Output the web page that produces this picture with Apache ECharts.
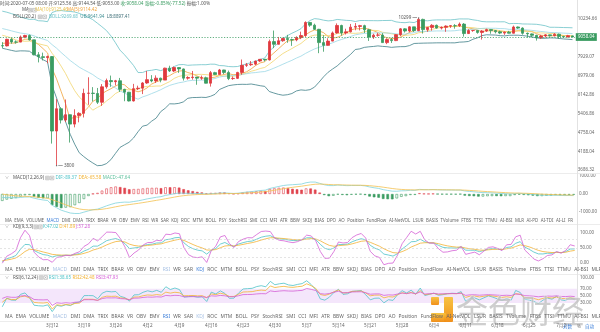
<!DOCTYPE html>
<html><head><meta charset="utf-8">
<script src="https://cdn.jsdelivr.net/npm/echarts@6/dist/echarts.min.js"></script>
<style>html,body{margin:0;padding:0;background:#fff}#c{width:600px;height:332px}</style>
</head><body><div id="c"></div>
<script>
// ---------------- DATA (daily candles, 2020-03-01 .. 2020-07-05) ----------------
const opens = [
 8543,8530,8915,8760,8750,9055,9150,8885,8035,7930,7885,7935,4800,5580,5170,5360,5030,5330,5410,6190,6200,6185,5830,6470,6750,6700,6740,6360,6240,5880,6390,
 6410,6640,6790,6730,6860,6770,7340,7200,7370,7300,6860,6890,6910,6860,6880,6630,7120,7030,7250,7130,6840,6850,7130,7480,7510,7540,7700,7790,7760,8780,
 8620,8830,8970,8900,8880,9030,9150,9990,9810,9540,8720,8560,8810,9310,9790,9310,9380,9680,9730,9780,9510,9060,9170,9180,8720,8900,8840,9200,9570,9430,9700,
 9450,10200,9520,9660,9800,9620,9670,9750,9780,9770,9880,9270,9460,9470,9340,9430,9520,9460,9380,9300,9360,9290,9690,9620,9290,9250,9160,9010,9120,9190,
 9140,9230,9090,9060,9125.56];
const closes = [
 8530,8915,8760,8750,9055,9150,8885,8035,7930,7885,7935,4800,5580,5170,5360,5030,5330,5410,6190,6200,6185,5830,6470,6750,6700,6740,6360,6240,5880,6390,6410,
 6640,6790,6730,6860,6770,7340,7200,7370,7300,6860,6890,6910,6860,6880,6630,7120,7030,7250,7130,6840,6850,7130,7480,7510,7540,7700,7790,7760,8780,8620,
 8830,8970,8900,8880,9030,9150,9990,9810,9540,8720,8560,8810,9310,9790,9310,9380,9680,9730,9780,9510,9060,9170,9180,8720,8900,8840,9200,9570,9430,9700,9450,
 10200,9520,9660,9800,9620,9670,9750,9780,9770,9880,9270,9460,9470,9340,9430,9520,9460,9380,9300,9360,9290,9690,9620,9290,9250,9160,9010,9120,9190,9140,
 9230,9090,9060,9135.56,9058.04];
const lows = [
 8411,8498,8653,8660,8740,8990,8840,8000,7630,7730,7590,4410,3800,5050,5100,4440,4920,5090,5260,5730,5860,5760,5690,6390,6470,6530,6250,5870,5860,5860,6330,
 6160,6600,6670,6640,6670,6770,7150,7150,7110,6750,6790,6790,6560,6780,6620,6480,7000,7030,7050,6770,6780,6820,7020,7400,7450,7480,7650,7680,7730,8400,
 8610,8770,8710,8530,8800,8930,9060,9700,9500,8120,8200,8540,8800,9260,9140,9210,9340,9480,9470,9300,8820,8940,9080,8700,8630,8700,8810,9110,9330,9350,9370,
 9420,9270,9380,9450,9580,9530,9380,9630,9580,9690,9080,9240,9380,9260,8900,9370,9260,9280,9230,9190,9280,9280,9570,9200,9020,9030,8840,8940,9020,9080,
 9090,8950,9030,9040,9053];
const highs = [
 8750,8960,8990,8848,9150,9194,9210,8890,8180,8150,7990,7965,5955,5640,5940,5365,5560,5450,6390,6900,6457,6420,6590,6840,6980,6780,6870,6380,6250,6600,6520,
 6680,7200,7000,6990,6880,7360,7460,7420,7380,7320,6950,7200,6910,6980,6930,7200,7160,7300,7260,7220,6940,7160,7780,7600,7700,7720,7800,7800,8900,9460,
 9060,9010,9190,8960,9100,9390,10070,10030,9910,9570,9170,8980,9400,9930,9840,9580,9890,9950,9830,9840,9570,9260,9310,9300,8980,9010,9230,9620,9610,9740,9700,
 10299,10250,9690,9880,9850,9730,9800,9800,9880,9990,9950,9550,9490,9480,9490,9580,9540,9490,9450,9400,9440,9780,9720,9670,9330,9280,9190,9190,9230,9200,
 9300,9270,9130,9190,9144.54];
// closes before the visible window (Jan-Feb 2020), used only to warm up the indicators
const warmCloses = [
 7200,6985,7345,7355,7360,7760,8160,8045,7815,8200,8020,8185,8110,8815,8810,8720,8900,8910,8700,8630,8725,8660,8390,8435,8340,8600,8895,9395,9285,9500,9345,
 9390,9340,9290,9180,9620,9760,9810,9910,10170,9850,10270,10350,10240,10360,9900,9930,9700,10180,9600,9610,9690,9670,9960,9660,9310,8790,8810,8700,8540];
const priceTicks = [3686.32,4188.04,4758.04,5406.86,6142.86,6979.06,7929.07,10234.66];
const dateLabels = ['3月12','3月19','3月26','4月2','4月9','4月16','4月23','4月30','5月7','5月14','5月21','5月28','6月4','6月11','6月18','6月25','7月2'];
const macdTicks = [-1000,0,1000];
const kdjTicks = [0,50,100];
const rsiTicks = [30,50,70,100];
const tabWords = ['MA','EMA','VOLUME','MACD','DMI','DMA','TRIX','BRAR','VR','OBV','EMV','RSI','WR','SAR','KDJ','ROC','MTM','BOLL','PSY','StochRSI','SMI','CCI','MFI','ATR','BBW','SKDJ','BIAS','DPO','AO','Position','FundFlow','AI-NetVOL','LSUR','BASIS','TVolume','FTBS','TTSI','TTMU','AI-BSI','MLR','AI-PD','AI-TDI','AI-LI','FR'];

// ---------------- helpers ----------------
const FONT = '"Noto Sans","Noto Sans CJK SC",sans-serif';
const RED = '#e0393e', GREEN = '#3a9c61';
const C_K = '#4cc3c8', C_D = '#f2b233', C_J = '#d45fd6';
const P0 = 7929.07, STEP = Math.log(10234.66 / 7929.07) / 2;
const tOf = p => Math.log(p / P0) / STEP;   // log price scale position
const cv = document.createElement('canvas').getContext('2d');
const tw = (s, fs) => { cv.font = fs + 'px ' + FONT; return cv.measureText(s).width; };

const N = closes.length, W = warmCloses.length;
const cats = [];
for (let i = 0; i < N; i++) { const d = new Date(2020, 2, 1 + i); cats.push((d.getMonth() + 1) + '月' + d.getDate()); }

// ---------------- indicators ----------------
const allC = warmCloses.concat(closes), allH = warmCloses.concat(highs), allL = warmCloses.concat(lows);
const avg = a => a.reduce((x, y) => x + y, 0) / a.length;
const maN = n => allC.map((_, i) => i < n - 1 ? null : avg(allC.slice(i - n + 1, i + 1))).slice(W);
const ma5 = maN(5), ma10 = maN(10);
const bMid = [], bUp = [], bLo = [];
for (let i = W; i < W + N; i++) {
  const s = allC.slice(i - 19, i + 1), m = avg(s);
  const sd = Math.sqrt(s.reduce((a, b) => a + (b - m) * (b - m), 0) / 20);
  bMid.push(m); bUp.push(m + 2 * sd); bLo.push(m - 2 * sd);
}
let e12 = 0, e26 = 0, dea = 0; const difA = [], deaA = [], macdA = [];
allC.forEach((c, i) => {
  e12 = i ? e12 * 11 / 13 + c * 2 / 13 : c; e26 = i ? e26 * 25 / 27 + c * 2 / 27 : c;
  const d = e12 - e26; dea = i ? dea * 0.8 + d * 0.2 : d;
  difA.push(d); deaA.push(dea); macdA.push(2 * (d - dea));
});
let K = 50, D = 50; const kA = [], dA = [], jA = [];
allC.forEach((c, i) => {
  const s = Math.max(0, i - 8);
  const hh = Math.max(...allH.slice(s, i + 1)), ll = Math.min(...allL.slice(s, i + 1));
  const rsv = hh === ll ? 50 : (c - ll) / (hh - ll) * 100;
  K = K * 2 / 3 + rsv / 3; D = D * 2 / 3 + K / 3;
  kA.push(K); dA.push(D); jA.push(3 * K - 2 * D);
});
function rsi(n) {
  let up = 0, dn = 0; const out = [50];
  for (let i = 1; i < allC.length; i++) {
    const ch = allC[i] - allC[i - 1];
    up = (Math.max(ch, 0) + (n - 1) * up) / n; dn = (Math.abs(ch) + (n - 1) * dn) / n;
    out.push(dn === 0 ? 50 : up / dn * 100);
  }
  return out.slice(W);
}
const r1 = rsi(6), r2 = rsi(12), r3 = rsi(24);
const vis = a => a.slice(W);
const dif = vis(difA), deaV = vis(deaA), macd = vis(macdA);
const macdBars = macd.map((v, i) => {
  const prev = macdA[W + i - 1];
  const col = v >= 0 ? '#e0454f' : GREEN;
  const hollow = v >= prev;
  return { value: v, itemStyle: { color: hollow ? '#fff' : col, borderColor: col, borderWidth: 0.6 } };
});

const candle = opens.map((o, i) => [tOf(o), tOf(closes[i]), tOf(lows[i]), tOf(highs[i])]);
let hiI = 0, loI = 0;
highs.forEach((h, i) => { if (h > highs[hiI]) hiI = i; });
lows.forEach((l, i) => { if (l < lows[loI]) loI = i; });
const lastC = closes[N - 1];

// ---------------- graphics (legends, tabs, watermark) ----------------
const G = [];
function txt(x, y, s, fill, fs, extra) {
  G.push({ type: 'text', x: x, y: y, silent: true, z: 50,
    style: Object.assign({ text: s, fill: fill, fontSize: fs, fontFamily: FONT, verticalAlign: 'middle', align: 'left' }, extra || {}) });
}
function icons(x, y) {
  G.push({ type: 'rect', z: 50, shape: { x: x, y: y - 1.8, width: 3.6, height: 3.6 }, style: { fill: '#fff', stroke: '#999', lineWidth: 0.5 } });
  G.push({ type: 'rect', z: 50, shape: { x: x + 1, y: y - 0.8, width: 1.6, height: 1.6 }, style: { fill: 'none', stroke: '#888', lineWidth: 0.4 } });
  G.push({ type: 'rect', z: 50, shape: { x: x + 4.6, y: y - 1.8, width: 3.6, height: 3.6 }, style: { fill: '#fff', stroke: '#999', lineWidth: 0.5 } });
  G.push({ type: 'line', z: 50, shape: { x1: x + 5.4, y1: y - 1, x2: x + 7.4, y2: y + 1 }, style: { stroke: '#888', lineWidth: 0.4 } });
  G.push({ type: 'line', z: 50, shape: { x1: x + 7.4, y1: y - 1, x2: x + 5.4, y2: y + 1 }, style: { stroke: '#888', lineWidth: 0.4 } });
}
function seqFit(x0, x1, y, fs, segs) {
  const ws = segs.map(s => s.icon ? 8.2 : tw(s.t, fs));
  const gap = (x1 - x0 - ws.reduce((a, b) => a + b, 0)) / (segs.length - 1);
  let x = x0;
  segs.forEach((s, i) => { if (s.icon) icons(x, y); else txt(x, y, s.t, s.c, fs); x += ws[i] + gap; });
}
const GR = '#555';
seqFit(0, 210, 3.6, 4.6, [
  { t: '时间:2020-07-05 08:00', c: GR }, { t: '开:' + opens[N - 1].toFixed(2), c: GR }, { t: '高:' + highs[N - 1].toFixed(2), c: GR },
  { t: '低:' + lows[N - 1].toFixed(2), c: GR }, { t: '收:' + lastC.toFixed(2), c: GREEN },
  { t: '涨幅:-0.85%(-77.52)', c: GREEN }, { t: '振幅:1.00%', c: GR }]);
seqFit(22, 97, 10.2, 4.5, [{ t: 'MA', c: GR }, { icon: 1 }, { t: 'MA(10):9125.46', c: '#e9c552' }, { t: 'MA(5):9114.42', c: '#f0a23a' }]);
seqFit(13, 130, 16.8, 4.5, [{ t: 'BOLL(20,2)', c: GR }, { icon: 1 }, { t: 'BOLL:9269.68', c: '#6cc3c8' }, { t: 'UB:9641.94', c: '#3f8f93' }, { t: 'LB:8897.41', c: '#3f6f78' }]);
txt(5, 178, '∨', '#888', 4);
seqFit(13, 130, 178, 4.5, [{ t: 'MACD(12,26,9)', c: GR }, { icon: 1 }, { t: 'DIF:-89.37', c: C_K }, { t: 'DEA:-65.58', c: C_D }, { t: 'MACD:-47.64', c: '#5abf9a' }]);
txt(5, 227, '∨', '#888', 4);
seqFit(13, 90, 227, 4.5, [{ t: 'KDJ(9,3,3)', c: GR }, { icon: 1 }, { t: 'K:47.02', c: C_K }, { t: 'D:41.89', c: C_D }, { t: 'J:57.28', c: C_J }]);
txt(5, 277.5, '∨', '#888', 4);
seqFit(13, 118, 277.5, 4.5, [{ t: 'RSI(6,12,24)', c: GR }, { icon: 1 }, { t: 'RSI1:38.65', c: C_K }, { t: 'RSI2:42.48', c: C_D }, { t: 'RSI3:47.93', c: C_J }]);

function tabRow(y, fs, scale, hl, dim) {
  const ws = tabWords.map(w => tw(w, 4.4));
  const gap = (573 - 5 - ws.reduce((a, b) => a + b, 0)) / (tabWords.length - 1);
  let x = 5;
  tabWords.forEach((w, i) => {
    const px = 5 + (x - 5) * scale;
    if (px < 604) txt(px, y, w, w === hl ? '#3d7fd9' : (dim.indexOf(w) >= 0 ? '#a8c2e4' : '#666'), fs);
    x += ws[i] + gap;
  });
}
tabRow(220.5, 4.4, 1, 'MACD', []);
tabRow(270, 4.9, 1.15, 'KDJ', ['MACD', 'RSI']);
tabRow(317, 4.9, 1.15, 'RSI', ['MACD', 'KDJ']);

// separators and right border
[173.5, 224.5, 274.5, 321.5].forEach(y => G.push({ type: 'line', z: 1, shape: { x1: 0, y1: y, x2: 600, y2: y }, style: { stroke: '#ececec', lineWidth: 1 } }));
G.push({ type: 'line', z: 1, shape: { x1: 577.5, y1: 0, x2: 577.5, y2: 322 }, style: { stroke: '#e2e2e2', lineWidth: 1 } });

// watermark logo
const og = { type: 'linear', x: 0, y: 0, x2: 0, y2: 1, colorStops: [{ offset: 0, color: '#f7c23a' }, { offset: 1, color: '#f08a10' }] };
G.push({ type: 'rect', z: 40, shape: { x: 444, y: 297, width: 9, height: 25, r: 1 }, style: { fill: og, opacity: 0.95 } });
G.push({ type: 'rect', z: 40, shape: { x: 431, y: 313, width: 15, height: 9, r: 1 }, style: { fill: og, opacity: 0.95 } });
G.push({ type: 'rect', z: 40, shape: { x: 431, y: 297, width: 8, height: 8, r: 1 }, style: { fill: og, opacity: 0.95 } });
G.push({ type: 'text', z: 40, x: 456, y: 311, silent: true,
  style: { text: '金色财经', fill: 'rgba(190,190,190,0.75)', stroke: 'rgba(255,255,255,0.6)', lineWidth: 0.8, fontSize: 32,
           fontFamily: '"Noto Sans CJK SC",sans-serif', verticalAlign: 'middle', align: 'left' } });

// bottom-right controls (above the watermark)
txt(563, 326.5, '对数', '#3d7fd9', 4.6, {});
txt(577, 326.5, '%', '#777', 4.6);
txt(585, 326.5, '自动', '#3d7fd9', 4.6);

// ---------------- chart ----------------
const labelStyle = { fontSize: 4.5, color: '#666', fontFamily: FONT, margin: 3 };
const grids = [
  { left: 0, right: 23, top: 0, height: 173 },
  { left: 0, right: 23, top: 174, height: 41.6 },
  { left: 0, right: 23, top: 228, height: 38 },
  { left: 0, right: 23, top: 278, height: 35.7 }
];
const xAxes = grids.map((g, i) => ({
  type: 'category', gridIndex: i, data: cats, boundaryGap: true, z: 45,
  axisLine: { show: false }, axisTick: { show: false }, splitLine: { show: false },
  axisLabel: i < 3 ? { show: false } : { interval: (idx, v) => dateLabels.indexOf(v) >= 0, fontSize: 4.6, color: '#666', fontFamily: FONT, margin: 10 }
}));
const yBase = { type: 'value', position: 'right', axisLine: { show: false }, axisTick: { show: false }, splitLine: { show: false } };
const yAxes = [
  Object.assign({}, yBase, { gridIndex: 0, min: tOf(P0) - 173 / 18.9 + 3, max: 3, scale: true,
    axisLabel: Object.assign({}, labelStyle, { customValues: priceTicks.map(tOf), formatter: v => {
      let b = 0; priceTicks.forEach((p, i) => { if (Math.abs(tOf(p) - v) < Math.abs(tOf(priceTicks[b]) - v)) b = i; });
      return priceTicks[b].toFixed(2); } }) }),
  Object.assign({}, yBase, { gridIndex: 1, min: -1200, max: 1111, axisLabel: Object.assign({}, labelStyle, { customValues: macdTicks, formatter: v => v.toFixed(2) }) }),
  Object.assign({}, yBase, { gridIndex: 2, min: -10, max: 116.67, axisLabel: Object.assign({}, labelStyle, { customValues: kdjTicks, formatter: v => v.toFixed(2) }) }),
  Object.assign({}, yBase, { gridIndex: 3, min: 0, max: 100, axisLabel: Object.assign({}, labelStyle, { customValues: rsiTicks, formatter: v => v.toFixed(2) }) })
];
const ln = (name, data, color, xi, extra) => Object.assign({
  type: 'line', name: name, data: data, xAxisIndex: xi, yAxisIndex: xi, symbol: 'none', smooth: false,
  lineStyle: { color: color, width: 0.8 }, silent: true, z: 3
}, extra || {});
const T = a => a.map(v => v == null ? null : tOf(v));

const series = [
  { type: 'candlestick', name: 'K', data: candle, xAxisIndex: 0, yAxisIndex: 0, barWidth: 3, z: 4,
    itemStyle: { color: RED, color0: GREEN, borderColor: RED, borderColor0: GREEN, borderWidth: 0.8 },
    markPoint: { symbol: 'circle', symbolSize: 1.4, itemStyle: { color: '#666' }, silent: true,
      label: { fontSize: 4.5, color: '#555', fontFamily: FONT },
      data: [
        { coord: [hiI, tOf(highs[hiI])], label: { position: 'left', distance: 1, formatter: Math.round(highs[hiI]) + ' ━' } },
        { coord: [loI, tOf(lows[loI])], label: { position: 'right', distance: 1, formatter: '━ ' + Math.round(lows[loI]) } }
      ] },
    markLine: { symbol: ['none', 'none'], silent: true,
      lineStyle: { type: [1.2, 1.6], color: '#3a9c61', width: 0.8 },
      label: { show: true, position: 'end', distance: 1, formatter: lastC.toFixed(2), backgroundColor: '#3a9c61', color: '#fff', fontSize: 4.5, fontFamily: FONT, padding: [1.6, 2.2] },
      data: [{ yAxis: tOf(lastC) }] } },
  ln('MA5', T(ma5), '#f0a23a', 0),
  ln('MA10', T(ma10), '#f3d56e', 0),
  ln('UB', T(bUp), '#6cc3c8', 0),
  ln('MID', T(bMid), '#9cd8e6', 0),
  ln('LB', T(bLo), '#3f7f88', 0),
  { type: 'bar', name: 'MACD', data: macdBars, xAxisIndex: 1, yAxisIndex: 1, barWidth: 2.6, silent: true, z: 2 },
  ln('DIF', dif, '#7fd3dc', 1),
  ln('DEA', deaV, '#f2c04f', 1),
  ln('Kl', kA.slice(W), C_K, 2, { markLine: { symbol: ['none', 'none'], silent: true, label: { show: false },
      lineStyle: { type: [2, 2], color: '#d2d2d2', width: 0.6 }, data: [{ yAxis: 20 }, { yAxis: 50 }, { yAxis: 80 }] } }),
  ln('Dl', dA.slice(W), C_D, 2),
  ln('Jl', jA.slice(W), C_J, 2),
  ln('RSI1', r1, C_K, 3, { markArea: { silent: true, itemStyle: { color: '#f4e6fb' }, data: [[{ yAxis: 30 }, { yAxis: 70 }]] } }),
  ln('RSI2', r2, C_D, 3),
  ln('RSI3', r3, C_J, 3)
];

const chart = echarts.init(document.getElementById('c'), null, { renderer: 'canvas' });
chart.setOption({
  animation: false, backgroundColor: '#fff',
  grid: grids, xAxis: xAxes, yAxis: yAxes, series: series,
  graphic: { elements: G }
});
</script></body></html>
